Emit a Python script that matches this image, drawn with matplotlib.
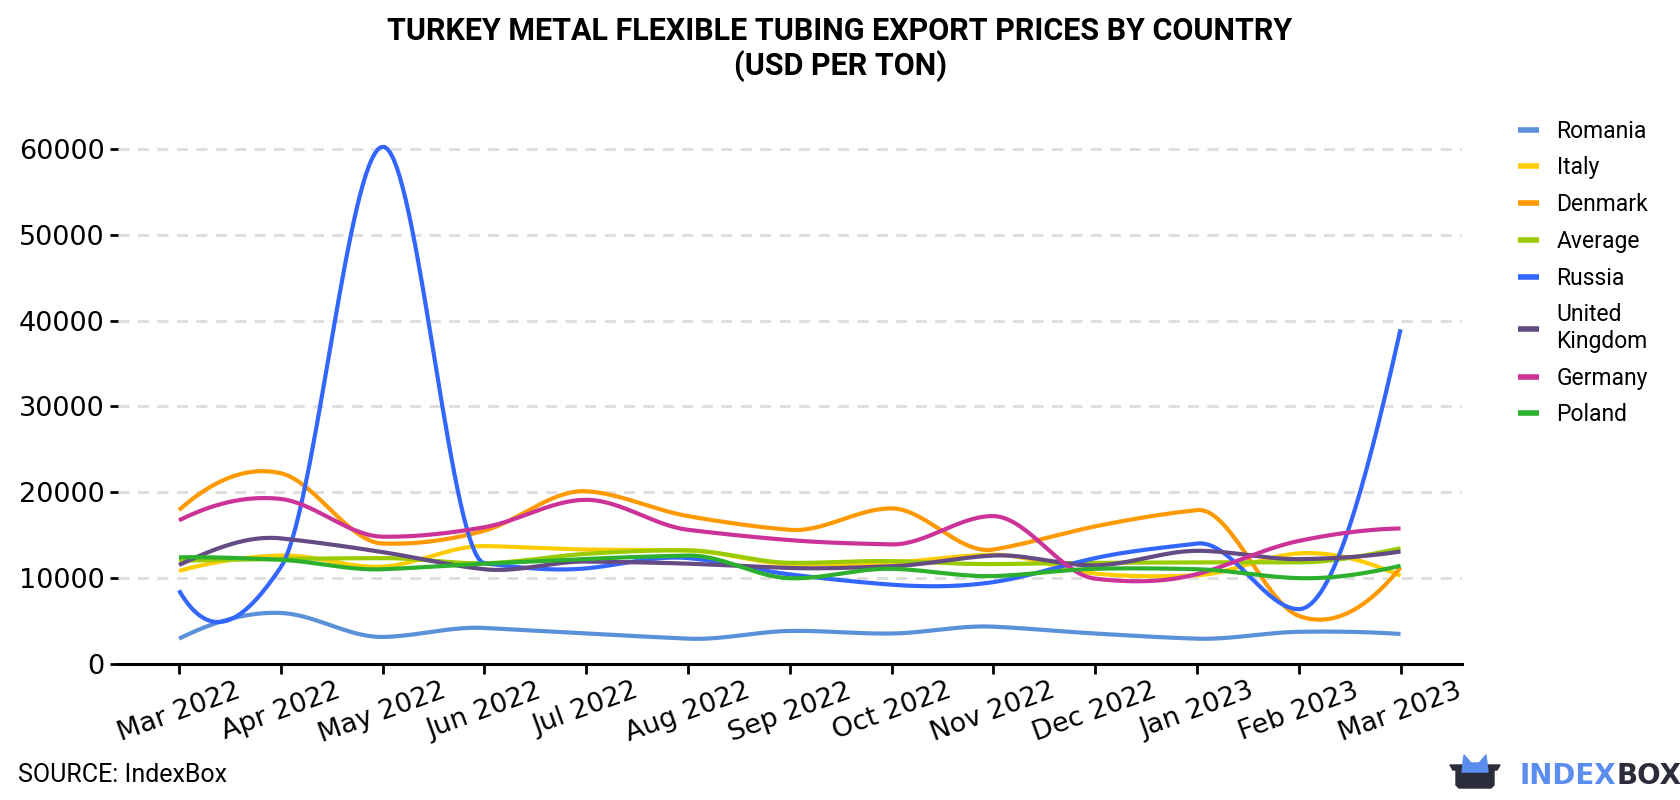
import numpy as np
import matplotlib
matplotlib.use('Agg')
import matplotlib.pyplot as plt
from matplotlib.patches import Polygon

# Monthly export prices, USD per ton
months = ['Mar 2022', 'Apr 2022', 'May 2022', 'Jun 2022', 'Jul 2022', 'Aug 2022',
          'Sep 2022', 'Oct 2022', 'Nov 2022', 'Dec 2022', 'Jan 2023', 'Feb 2023', 'Mar 2023']

romania = [2900, 5900, 3100, 4150, 3500, 2900, 3800, 3500, 4300, 3500, 2900, 3700, 3450]
italy = [10800, 12600, 11300, 13700, 13300, 13200, 11600, 11800, 12700, 10500, 10300, 12850, 10250]
denmark = [17900, 22200, 14000, 15500, 20100, 17200, 15600, 18100, 13300, 16000, 17900, 5560, 11200]
average = [12000, 12200, 12300, 11700, 12800, 13200, 11750, 11950, 11600, 11750, 11800, 11800, 13450]
russia = [8530, 11240, 60300, 11700, 11100, 12300, 10400, 9200, 9500, 12300, 14000, 6340, 39000]
uk = [11500, 14600, 13000, 11000, 11900, 11650, 11150, 11350, 12600, 11450, 13150, 12180, 13070]
germany = [16700, 19200, 14800, 15900, 19100, 15600, 14400, 13900, 17200, 9900, 10430, 14300, 15760]
poland = [12400, 12100, 11000, 11650, 12200, 12600, 9950, 11050, 10200, 11050, 11000, 9960, 11400]

series = [
    ('Romania', romania, '#5b91d8'),
    ('Italy', italy, '#ffcc00'),
    ('Denmark', denmark, '#ff9900'),
    ('Average', average, '#99cc00'),
    ('Russia', russia, '#3366ff'),
    ('United\nKingdom', uk, '#654b84'),
    ('Germany', germany, '#cc3399'),
    ('Poland', poland, '#2db02d'),
]


def akima(y, n=400):
    # Akima spline through the monthly points (display only)
    y = np.asarray(y, dtype=float)
    x = np.arange(len(y), dtype=float)
    m = np.diff(y)
    m = np.r_[0, 0, m, 0, 0]
    m[1] = 2 * m[2] - m[3]
    m[0] = 2 * m[1] - m[2]
    m[-2] = 2 * m[-3] - m[-4]
    m[-1] = 2 * m[-2] - m[-3]
    w1 = np.abs(m[3:] - m[2:-1])
    w2 = np.abs(m[1:-2] - m[:-3])
    s = w1 + w2
    with np.errstate(invalid='ignore', divide='ignore'):
        tan = np.where(s > 0, (w1 * m[1:-2] + w2 * m[2:-1]) / s,
                       (m[1:-2] + m[2:-1]) / 2)
    xs = np.linspace(x[0], x[-1], n)
    i = np.minimum(xs.astype(int), len(y) - 2)
    t = xs - i
    h00 = 2 * t ** 3 - 3 * t ** 2 + 1
    h10 = t ** 3 - 2 * t ** 2 + t
    h01 = -2 * t ** 3 + 3 * t ** 2
    h11 = t ** 3 - t ** 2
    return xs, h00 * y[i] + h10 * tan[i] + h01 * y[i + 1] + h11 * tan[i + 1]


fig = plt.figure(figsize=(16.8, 8), dpi=100)
ax = fig.add_axes([0.0702, 0.1706, 0.7998, 0.6964])

x = np.arange(len(months))
for name, vals, color in series:
    sx, sy = akima(vals)
    ax.plot(sx, sy, color=color, lw=3, label=name, solid_capstyle='butt')

ax.set_xlim(-0.6, len(months) - 0.4)
ax.set_ylim(0, 65000)
ax.set_yticks(range(0, 60001, 10000))
ax.set_xticks(x)
ax.set_xticklabels(months, rotation=20, ha='center', fontsize=19.5)
ax.tick_params(axis='y', labelsize=19.5, length=6, width=2)
ax.tick_params(axis='x', length=7, width=2)
ax.yaxis.grid(True, color='#dddddd', linestyle=(0, (4, 3)), lw=2)
ax.set_axisbelow(True)
for s in ['top', 'right', 'left']:
    ax.spines[s].set_visible(False)
ax.spines['bottom'].set_linewidth(2.2)

fig.text(0.5, 1 - 31 / 800, 'TURKEY METAL FLEXIBLE TUBING EXPORT PRICES BY COUNTRY',
         ha='center', va='center', fontsize=22, fontweight='bold', family='Roboto')
fig.text(0.5, 1 - 66 / 800, '(USD PER TON)',
         ha='center', va='center', fontsize=22, fontweight='bold', family='Roboto')

leg = ax.legend(loc='upper left', bbox_to_anchor=(1497 / 1680, 1 - 99 / 800),
                bbox_transform=fig.transFigure, frameon=False,
                prop={'family': 'Roboto', 'size': 16.5},
                handlelength=0.95, handletextpad=0.75, labelspacing=0.6)
for line in leg.get_lines():
    line.set_linewidth(4)

fig.text(18 / 1680, 1 - 775 / 800, 'SOURCE: IndexBox', ha='left', va='center',
         fontsize=18, family='Roboto')

# IndexBox logo
def fp(px, py):
    return (px / 1680, 1 - py / 800)

box = Polygon([fp(1450, 765), fp(1500, 765), fp(1497, 770), fp(1494, 770),
               fp(1494, 785), fp(1491, 788), fp(1459, 788), fp(1456, 785),
               fp(1456, 770), fp(1453, 770)],
              closed=True, transform=fig.transFigure, color='#2b2d3a')
ears = Polygon([fp(1462, 772), fp(1464, 755), fp(1471, 763), fp(1479, 763),
                fp(1486, 755), fp(1488, 772)],
               closed=True, transform=fig.transFigure, color='#5b8def')
fig.patches.extend([box, ears])
t1 = fig.text(1519 / 1680, 1 - 776 / 800, 'INDEX', ha='left', va='center',
              fontsize=20, fontweight='bold', family='DejaVu Sans', color='#5b8def')
fig.canvas.draw()
bb = t1.get_window_extent()
fig.text(bb.x1 / 1680 + 0.0008, 1 - 776 / 800, 'BOX', ha='left', va='center',
         fontsize=20, fontweight='bold', family='DejaVu Sans', color='#2b2d3a')

fig.savefig('out.png', dpi=100)
